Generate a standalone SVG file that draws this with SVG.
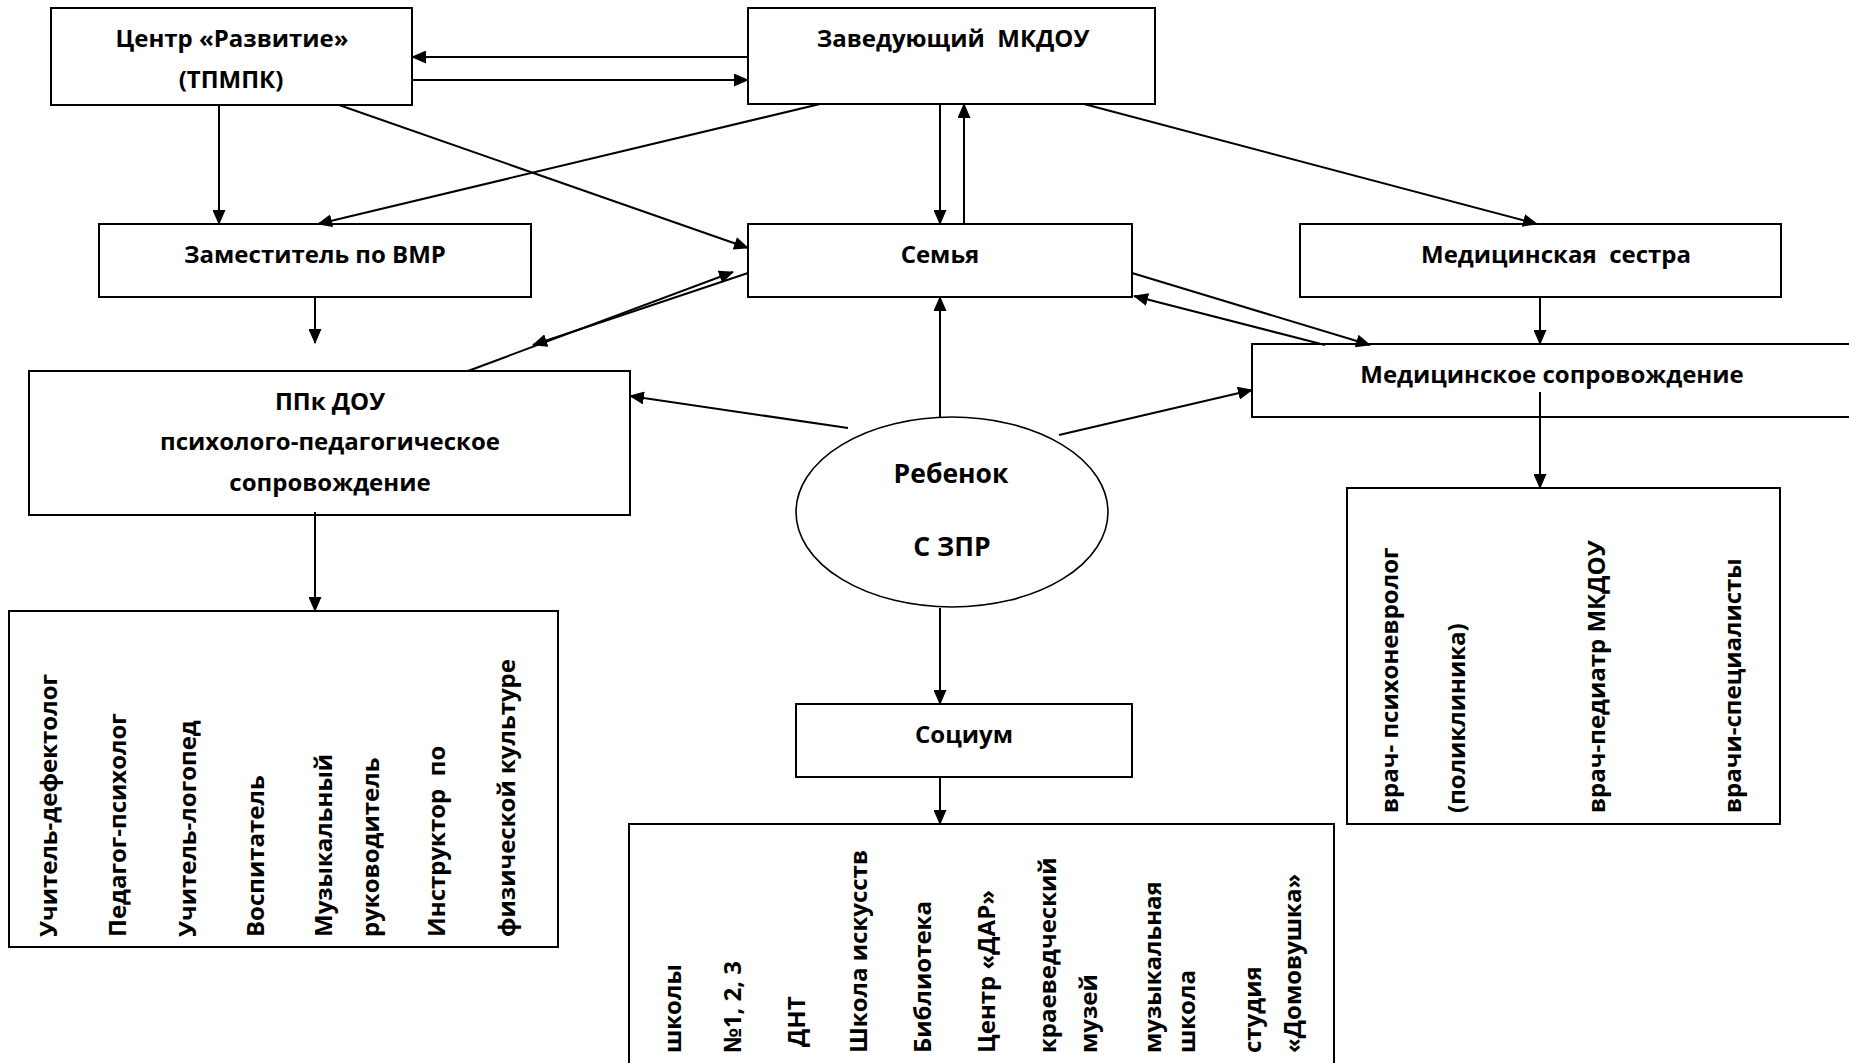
<svg xmlns="http://www.w3.org/2000/svg" width="1849" height="1063" viewBox="0 0 1849 1063">
<defs>
<style>
.box{fill:#fff;stroke:#000;stroke-width:2}
.ell{fill:#fff;stroke:#000;stroke-width:1.6}
.t{font-family:"Open Sans","Liberation Sans",sans-serif;font-weight:700;font-size:24px;fill:#000;text-anchor:middle;white-space:pre}
.tl{font-size:26.5px}
.v{font-family:"Open Sans","Liberation Sans",sans-serif;font-weight:700;font-size:24px;fill:#000;text-anchor:start;white-space:pre}
.c{stroke:#000;stroke-width:2;fill:none;marker-end:url(#ah)}
</style>
<marker id="ah" viewBox="0 0 15 13" refX="14" refY="6.5" markerWidth="15" markerHeight="13" markerUnits="userSpaceOnUse" orient="auto">
<path d="M0,0 L15,6.5 L0,13 z" fill="#000"/>
</marker>
</defs>
<rect width="1849" height="1063" fill="#fff"/>

<g id="n-center">
<rect class="box" x="51" y="8" width="361" height="97"/>
<text class="t" x="232" y="47">Центр «Развитие»</text>
<text class="t" x="231" y="88">(ТПМПК)</text>
</g>

<g id="n-head">
<rect class="box" x="748" y="8" width="407" height="96"/>
<text class="t" x="953" y="47">Заведующий  МКДОУ</text>
</g>

<g id="n-deputy">
<rect class="box" x="99" y="224" width="432" height="73"/>
<text class="t" x="315" y="263">Заместитель по ВМР</text>
</g>

<g id="n-family">
<rect class="box" x="748" y="224" width="384" height="73"/>
<text class="t" x="940" y="263">Семья</text>
</g>

<g id="n-nurse">
<rect class="box" x="1300" y="224" width="481" height="73"/>
<text class="t" x="1556" y="263">Медицинская  сестра</text>
</g>

<g id="n-ppk">
<rect class="box" x="29" y="371" width="601" height="144"/>
<text class="t" x="330" y="410">ППк ДОУ</text>
<text class="t" x="330" y="450">психолого-педагогическое</text>
<text class="t" x="330" y="491">сопровождение</text>
</g>

<g id="n-medsup">
<rect class="box" x="1252" y="344" width="700" height="73"/>
<text class="t" x="1552" y="383">Медицинское сопровождение</text>
</g>

<g id="n-child">
<ellipse class="ell" cx="952" cy="512" rx="156" ry="95"/>
<text class="t tl" x="951" y="483">Ребенок</text>
<text class="t tl" x="952" y="556">С ЗПР</text>
</g>

<g id="n-socium">
<rect class="box" x="796" y="704" width="336" height="73"/>
<text class="t" x="964" y="743">Социум</text>
</g>

<g id="n-staff">
<rect class="box" x="9" y="611" width="549" height="336"/>
<text class="v" transform="translate(57,937) rotate(-90)">Учитель-дефектолог</text>
<text class="v" transform="translate(126,937) rotate(-90)">Педагог-психолог</text>
<text class="v" transform="translate(196,937) rotate(-90)">Учитель-логопед</text>
<text class="v" transform="translate(264,937) rotate(-90)">Воспитатель</text>
<text class="v" transform="translate(332,937) rotate(-90)">Музыкальный</text>
<text class="v" transform="translate(379,937) rotate(-90)">руководитель</text>
<text class="v" transform="translate(445,937) rotate(-90)">Инструктор  по</text>
<text class="v" transform="translate(515,937) rotate(-90)">физической культуре</text>
</g>

<g id="n-social">
<rect class="box" x="629" y="824" width="705" height="300"/>
<text class="v" transform="translate(681,1053) rotate(-90)">школы</text>
<text class="v" transform="translate(741,1053) rotate(-90)">№1, 2, 3</text>
<text class="v" transform="translate(805,1047) rotate(-90)">ДНТ</text>
<text class="v" transform="translate(867,1053) rotate(-90)">Школа искусств</text>
<text class="v" transform="translate(931,1053) rotate(-90)">Библиотека</text>
<text class="v" transform="translate(995,1053) rotate(-90)">Центр «ДАР»</text>
<text class="v" transform="translate(1056,1053) rotate(-90)">краеведческий</text>
<text class="v" transform="translate(1097,1053) rotate(-90)">музей</text>
<text class="v" transform="translate(1161,1053) rotate(-90)">музыкальная</text>
<text class="v" transform="translate(1195,1053) rotate(-90)">школа</text>
<text class="v" transform="translate(1261,1053) rotate(-90)">студия</text>
<text class="v" transform="translate(1301,1053) rotate(-90)">«Домовушка»</text>
</g>

<g id="n-doctors">
<rect class="box" x="1347" y="488" width="433" height="336"/>
<text class="v" transform="translate(1398,813) rotate(-90)">врач- психоневролог</text>
<text class="v" transform="translate(1465,813) rotate(-90)">(поликлиника)</text>
<text class="v" transform="translate(1605,813) rotate(-90)">врач-педиатр МКДОУ</text>
<text class="v" transform="translate(1741,813) rotate(-90)">врачи-специалисты</text>
</g>

<g id="connectors">
<path class="c" d="M748,57 L412,57"/>
<path class="c" d="M412,80 L748,80"/>
<path class="c" d="M219,105 L219,224"/>
<path class="c" d="M339,105 L748,248"/>
<path class="c" d="M820,104 L318,224"/>
<path class="c" d="M940,104 L940,224"/>
<path class="c" d="M964,224 L964,104"/>
<path class="c" d="M1084,104 L1537,224"/>
<path class="c" d="M315,297 L315,343"/>
<path class="c" d="M748,273 L533,345"/>
<path class="c" d="M468,371 L733,272"/>
<path class="c" d="M1132,273 L1370,345"/>
<path class="c" d="M1325,345 L1134,296"/>
<path class="c" d="M1540,297 L1540,344"/>
<path class="c" d="M1540,392 L1540,488"/>
<path class="c" d="M315,512 L315,611"/>
<path class="c" d="M940,417 L940,297"/>
<path class="c" d="M848,428 L630,396"/>
<path class="c" d="M1059,435 L1252,390"/>
<path class="c" d="M940,608 L940,704"/>
<path class="c" d="M940,777 L940,824"/>
</g>
</svg>
